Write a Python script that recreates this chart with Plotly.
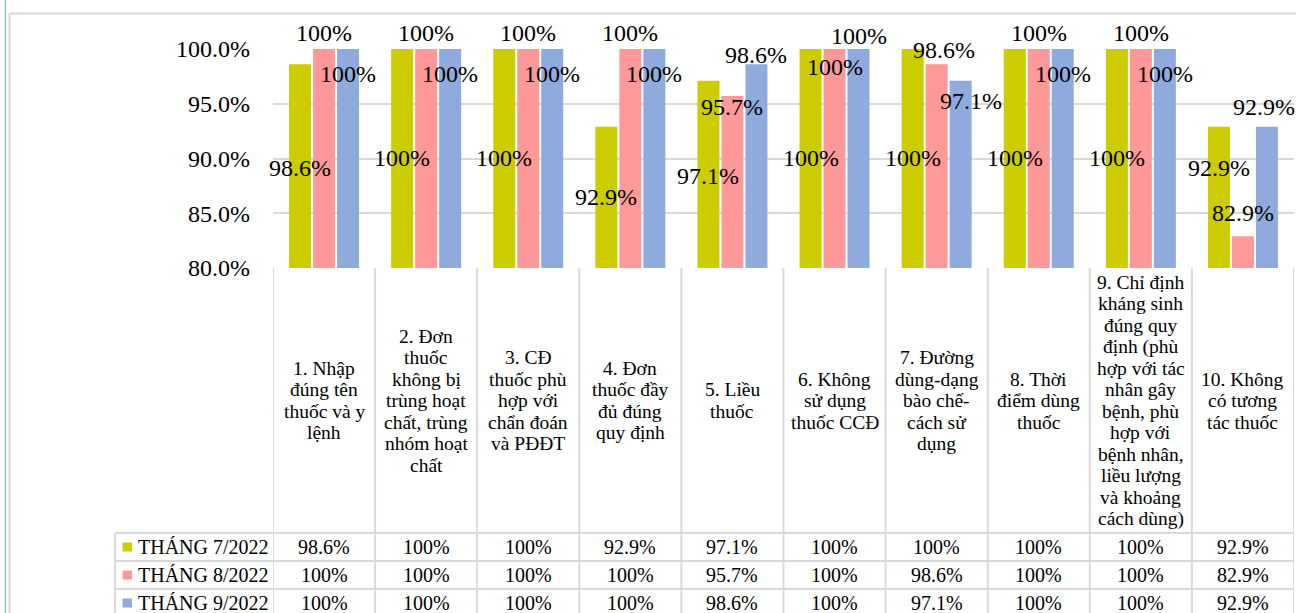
import plotly.graph_objects as go

# ---- data -------------------------------------------------------------
categories = [
    "1. Nhập\nđúng tên\nthuốc và y\nlệnh",
    "2. Đơn\nthuốc\nkhông bị\ntrùng hoạt\nchất, trùng\nnhóm hoạt\nchất",
    "3. CĐ\nthuốc phù\nhợp với\nchẩn đoán\nvà PĐĐT",
    "4. Đơn\nthuốc đầy\nđủ đúng\nquy định",
    "5. Liều\nthuốc",
    "6. Không\nsử dụng\nthuốc CCĐ",
    "7. Đường\ndùng-dạng\nbào chế-\ncách sử\ndụng",
    "8. Thời\nđiểm dùng\nthuốc",
    "9. Chỉ định\nkháng sinh\nđúng quy\nđịnh (phù\nhợp với tác\nnhân gây\nbệnh, phù\nhợp với\nbệnh nhân,\nliều lượng\nvà khoảng\ncách dùng)",
    "10. Không\ncó tương\ntác thuốc",
]
series_names = ["THÁNG 7/2022", "THÁNG 8/2022", "THÁNG 9/2022"]
thang7 = [98.6, 100, 100, 92.9, 97.1, 100, 100, 100, 100, 92.9]
thang8 = [100, 100, 100, 100, 95.7, 100, 98.6, 100, 100, 82.9]
thang9 = [100, 100, 100, 100, 98.6, 100, 97.1, 100, 100, 92.9]
y_ticks = [80, 85, 90, 95, 100]

# ---- styling ------------------------------------------------------------
colors = ["#CCCC00", "#FF9999", "#8FAADC"]
FONT = "Liberation Serif, Times New Roman, serif"
GRID = "#D9D9D9"
W, H = 1296, 613
Y_MIN, Y_MAX = 80, 100
BARGAP, GROUPGAP = 0.295, 0.083

# label nudges (pixels, +up) per series
label_anchor_mid = [True, False, False]
label_yshift = [
    [-2, 0, 0, 0, -2, 0, 0, 0, 0, 29],
    [16, 16, 16, 16, -11, -18, 14, 16, 16, 23],
    [-25, -25, -25, -25, 9, 13, -20, -25, -25, 20],
]
label_xshift = [
    [0] * 10,
    [0, 0, 0, 0, 0, 0, 7, 0, 0, 0],
    [0, 0, 0, 0, 0, 0, 10, 0, 0, -3],
]


def fx(px):
    return px / W


def fy(py):
    return 1 - py / H


x_dom = [fx(273), fx(1294)]
y_dom = [fy(268), fy(49)]

series = [thang7, thang8, thang9]
n = len(categories)
idx = list(range(n))

fig = go.Figure()
for name, vals, col in zip(series_names, series, colors):
    fig.add_trace(go.Bar(
        x=idx, y=vals, name=name, marker=dict(color=col, line=dict(width=0)),
        showlegend=False, hoverinfo="skip",
    ))

annotations = []
shapes = []

# bar value labels
slot = (1 - BARGAP) / len(series)
for s, vals in enumerate(series):
    off = (s - (len(series) - 1) / 2) * slot
    for i, v in enumerate(vals):
        yv = (Y_MIN + v) / 2 if label_anchor_mid[s] else v
        annotations.append(dict(
            x=i + off, y=yv, xref="x", yref="y", text=f"{v:g}%",
            showarrow=False, xanchor="center", yanchor="middle",
            yshift=label_yshift[s][i], xshift=label_xshift[s][i],
            font=dict(family=FONT, size=24, color="#000000"),
        ))

# data table: category header row
line_gap = 21.5
header_mid = (268 + 533) / 2
for i, lab in enumerate(categories):
    lines = lab.split("\n")
    for k, ln in enumerate(lines):
        py = header_mid + (k - (len(lines) - 1) / 2) * line_gap
        annotations.append(dict(
            x=i, y=fy(py), xref="x", yref="paper", text=ln, showarrow=False,
            xanchor="center", yanchor="middle",
            font=dict(family=FONT, size=19.5, color="#000000"),
        ))

# data table: value rows with legend keys
row_edges = [533, 561, 589, 617]
for s, (name, vals, col) in enumerate(zip(series_names, series, colors)):
    mid = (row_edges[s] + row_edges[s + 1]) / 2
    shapes.append(dict(type="rect", xref="paper", yref="paper",
                       x0=fx(122.5), x1=fx(132), y0=fy(mid - 4.5), y1=fy(mid + 4.5),
                       fillcolor=col, line=dict(width=0)))
    annotations.append(dict(
        x=fx(136), y=fy(mid), xref="paper", yref="paper", text=name,
        showarrow=False, xanchor="left", yanchor="middle",
        font=dict(family=FONT, size=20, color="#000000"),
    ))
    for i, v in enumerate(vals):
        annotations.append(dict(
            x=i, y=fy(mid), xref="x", yref="paper", text=f"{v:g}%",
            showarrow=False, xanchor="center", yanchor="middle",
            font=dict(family=FONT, size=20, color="#000000"),
        ))

# table grid lines
for i in range(n + 1):
    shapes.append(dict(type="line", xref="x", yref="paper",
                       x0=i - 0.5, x1=i - 0.5, y0=fy(268), y1=0,
                       line=dict(color=GRID, width=2)))
for py in row_edges[:-1]:
    shapes.append(dict(type="line", xref="paper", yref="paper",
                       x0=fx(115), x1=x_dom[1], y0=fy(py), y1=fy(py),
                       line=dict(color=GRID, width=2)))
shapes.append(dict(type="line", xref="paper", yref="paper",
                   x0=fx(115), x1=fx(115), y0=fy(533), y1=0,
                   line=dict(color=GRID, width=2)))

# chart frame
shapes.append(dict(type="line", xref="paper", yref="paper",
                   x0=fx(9.5), x1=1, y0=fy(13.5), y1=fy(13.5),
                   line=dict(color=GRID, width=2)))
shapes.append(dict(type="line", xref="paper", yref="paper",
                   x0=fx(9.5), x1=fx(9.5), y0=fy(13.5), y1=0,
                   line=dict(color=GRID, width=2)))
shapes.append(dict(type="line", xref="paper", yref="paper",
                   x0=fx(5.5), x1=fx(5.5), y0=1, y1=0,
                   line=dict(color="#5BC4DE", width=1)))

fig.update_layout(
    width=W, height=H,
    margin=dict(l=0, r=0, t=0, b=0, pad=0, autoexpand=False),
    paper_bgcolor="white", plot_bgcolor="white",
    barmode="group", bargap=BARGAP, bargroupgap=GROUPGAP,
    annotations=annotations, shapes=shapes, showlegend=False,
    xaxis=dict(domain=x_dom, range=[-0.5, n - 0.5], showticklabels=False,
               showgrid=False, zeroline=False, ticks="", fixedrange=True,
               automargin=False),
    yaxis=dict(domain=y_dom, range=[Y_MIN, Y_MAX], tickvals=y_ticks,
               ticktext=[f"{t:.1f}%" for t in y_ticks],
               showgrid=True, gridcolor=GRID, gridwidth=2, zeroline=False,
               ticklabelstandoff=22, automargin=False, fixedrange=True,
               tickfont=dict(family=FONT, size=24, color="#000000")),
)

fig.write_html("out.html", config={"displayModeBar": False})
